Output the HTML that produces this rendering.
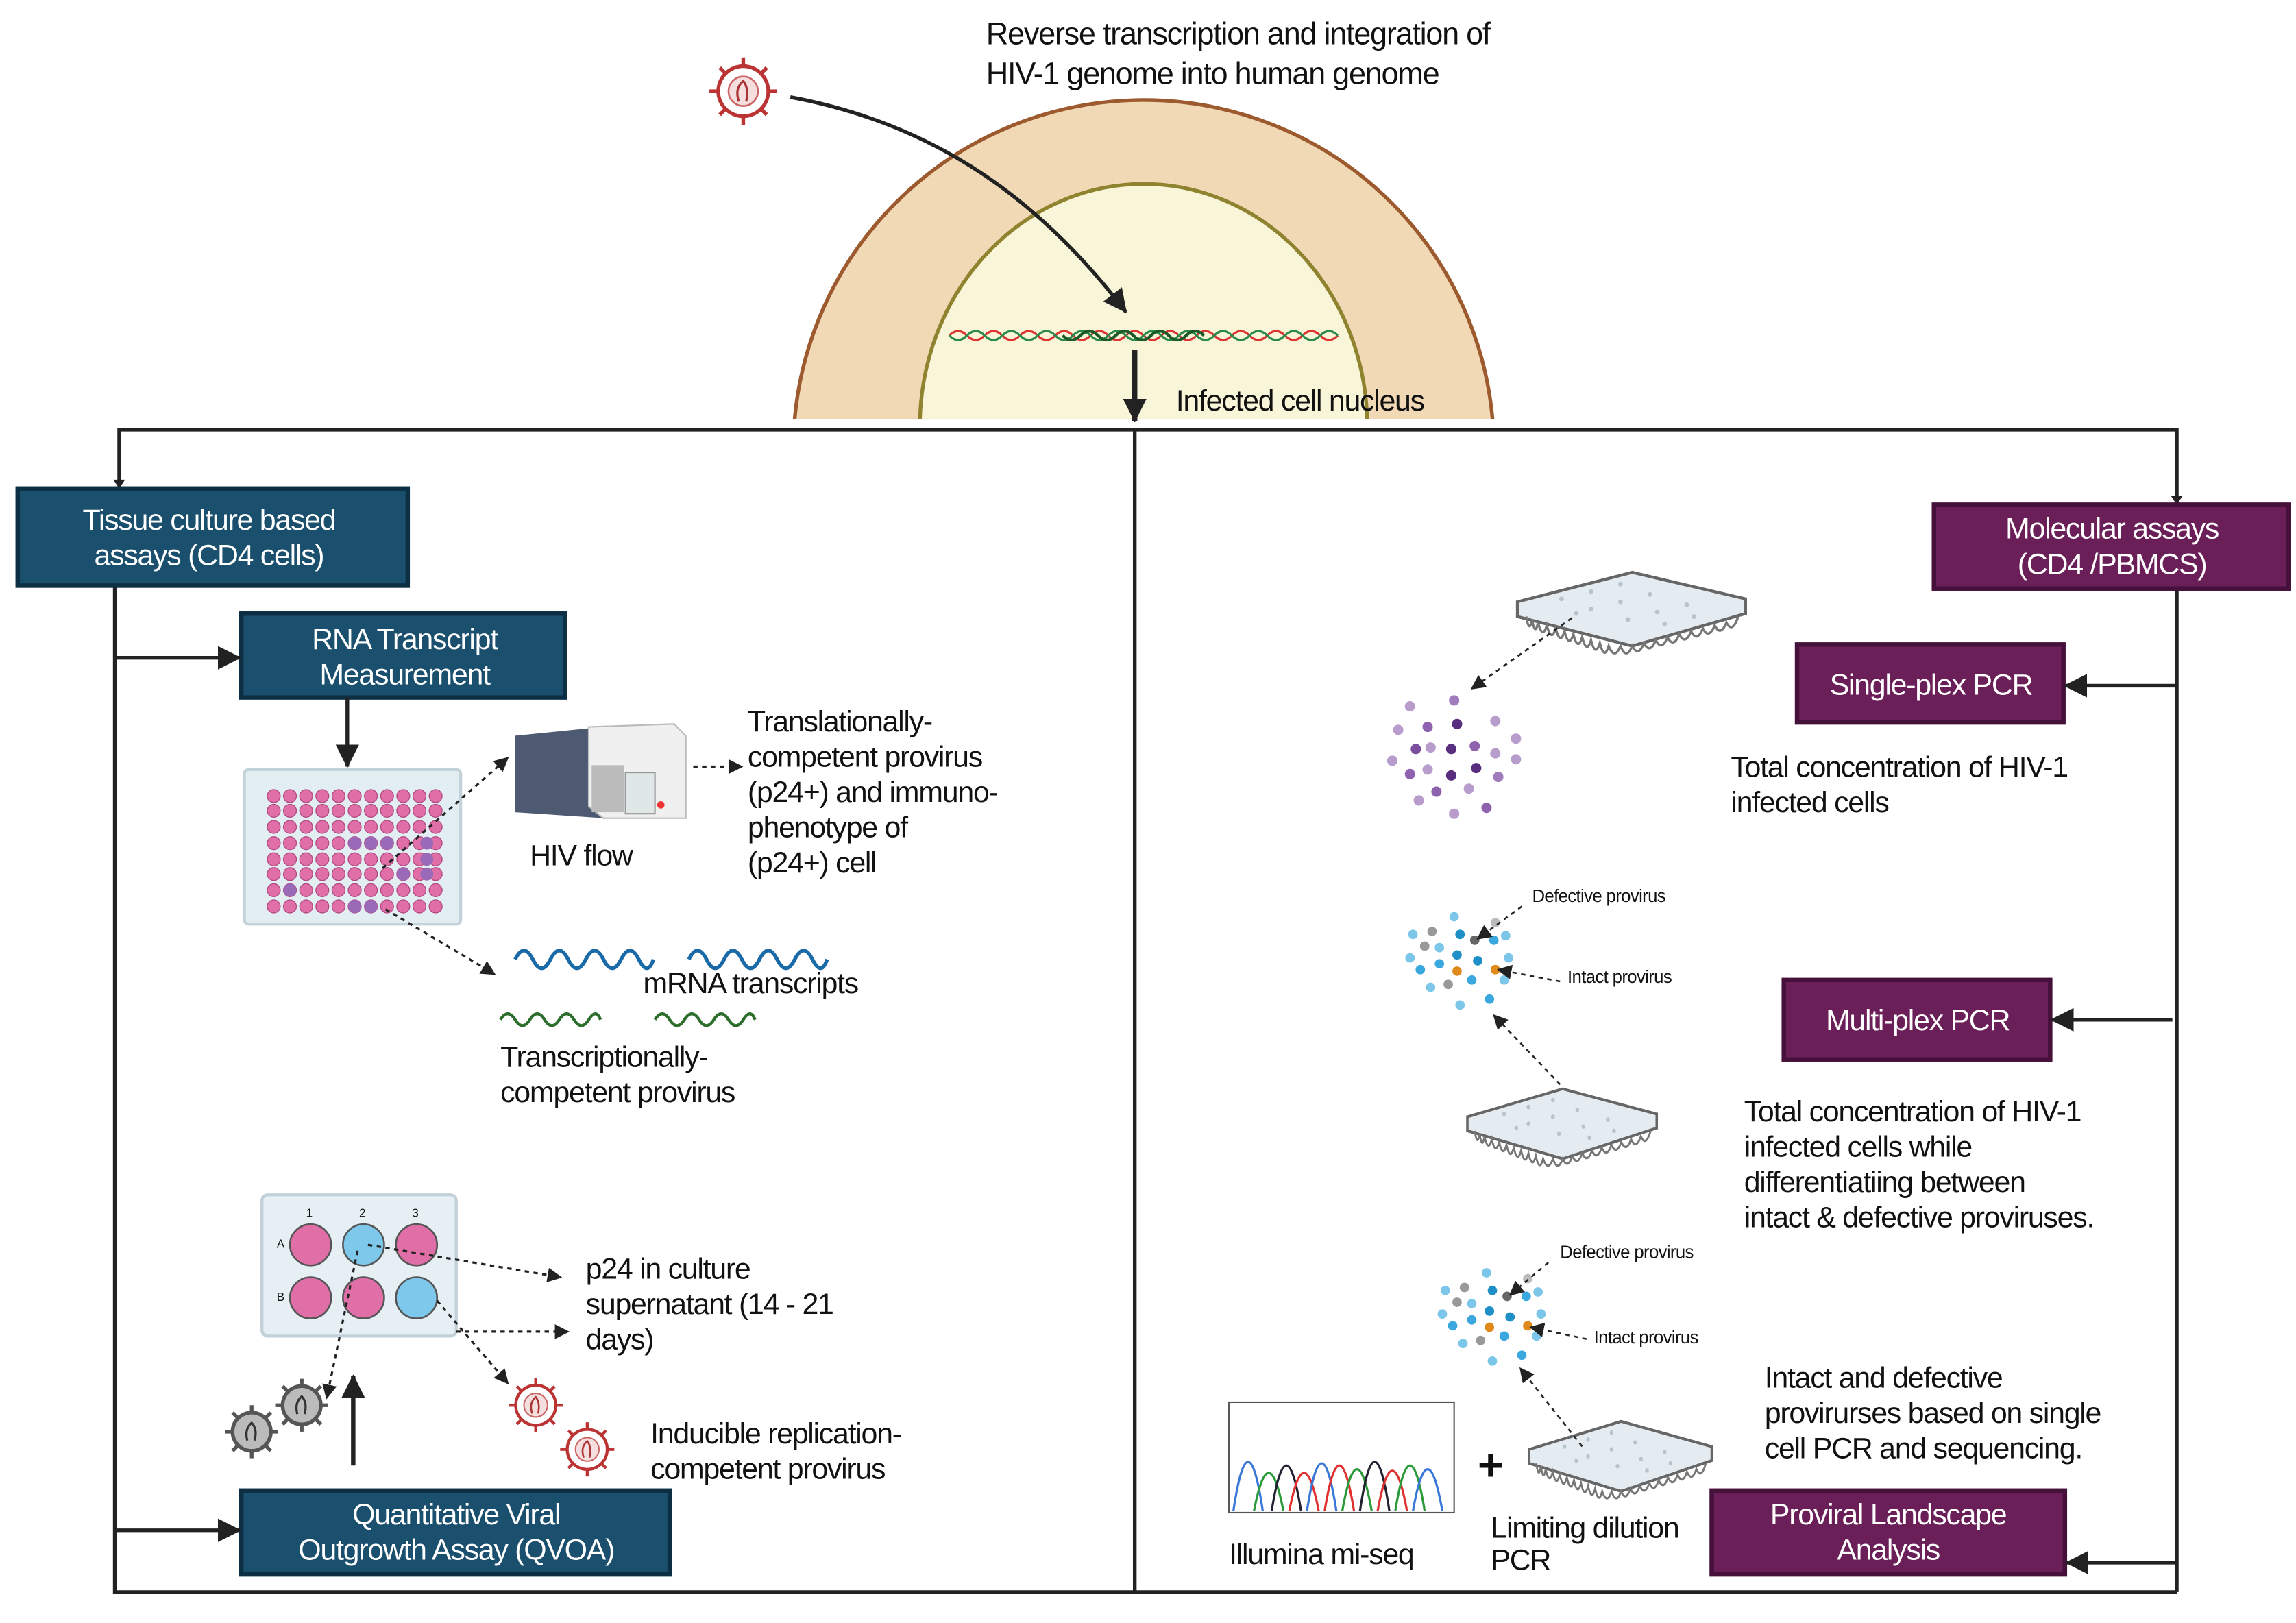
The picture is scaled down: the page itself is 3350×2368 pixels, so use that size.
<!DOCTYPE html>
<html><head><meta charset="utf-8"><style>
html,body{margin:0;padding:0;background:#fff}
svg{display:block}
text{font-family:"Liberation Sans",sans-serif;fill:#111;letter-spacing:-0.6px}
.w{fill:#fff}
.s{font-size:12px;letter-spacing:-0.3px}
</style></head><body>
<svg width="3350" height="2368" viewBox="0 0 1560 1103" preserveAspectRatio="none" xmlns="http://www.w3.org/2000/svg">
<defs>
<marker id="ah" markerWidth="10" markerHeight="10" refX="9" refY="5" orient="auto" markerUnits="userSpaceOnUse"><path d="M0,0 L10,5 L0,10 z" fill="#222"/></marker>
<marker id="AH" markerWidth="16" markerHeight="16" refX="15" refY="8" orient="auto" markerUnits="userSpaceOnUse"><path d="M0,0 L16,8 L0,16 z" fill="#222"/></marker>
<clipPath id="cl"><rect x="0" y="0" width="1560" height="285"/></clipPath>
<g id="row"><circle cx="186" cy="0" r="4.4"/><circle cx="197" cy="0" r="4.4"/><circle cx="208" cy="0" r="4.4"/><circle cx="219" cy="0" r="4.4"/><circle cx="230" cy="0" r="4.4"/><circle cx="241" cy="0" r="4.4"/><circle cx="252" cy="0" r="4.4"/><circle cx="263" cy="0" r="4.4"/><circle cx="274" cy="0" r="4.4"/><circle cx="285" cy="0" r="4.4"/><circle cx="296" cy="0" r="4.4"/></g>
<g id="pcr">
<path d="M0,20 L78,0 L155,18 L155,28 L78,50 L0,30 z" fill="#e4ecf2" stroke="#666" stroke-width="2"/>
<path d="M6,30 Q8,42 10,32 Q12,44 14,34 Q17,46 20,36 Q23,48 26,38 Q29,50 32,40 Q35,52 38,42 Q41,54 44,44 Q47,56 50,46 Q53,58 56,48 Q59,60 62,50 Q66,60 70,50 Q74,60 78,50 Q82,58 86,48 Q90,56 94,46 Q98,54 102,44 Q106,52 110,42 Q114,50 118,40 Q122,48 126,38 Q130,46 134,36 Q138,44 142,34 Q146,42 150,30" fill="none" stroke="#777" stroke-width="1.6"/>
<g fill="#b8c4cc"><circle cx="30" cy="18" r="1.6"/><circle cx="50" cy="13" r="1.6"/><circle cx="70" cy="8" r="1.6"/><circle cx="50" cy="25" r="1.6"/><circle cx="70" cy="20" r="1.6"/><circle cx="90" cy="15" r="1.6"/><circle cx="75" cy="32" r="1.6"/><circle cx="95" cy="27" r="1.6"/><circle cx="115" cy="22" r="1.6"/><circle cx="100" cy="35" r="1.6"/><circle cx="120" cy="30" r="1.6"/><circle cx="40" cy="28" r="1.6"/></g>
</g>
<g id="vr">
<circle r="17" fill="#fff" stroke="#b33" stroke-width="2.5"/>
<circle r="10" fill="#f5dede" stroke="#c66" stroke-width="1.2"/>
<path d="M-3,7 Q-6,-2 0,-7 Q4,-2 2,7" fill="none" stroke="#a33" stroke-width="1.5"/>
<g stroke="#b33" stroke-width="2.5"><line x1="0" y1="-17" x2="0" y2="-23"/><line x1="0" y1="17" x2="0" y2="23"/><line x1="-17" y1="0" x2="-23" y2="0"/><line x1="17" y1="0" x2="23" y2="0"/><line x1="12" y1="12" x2="16" y2="16"/><line x1="-12" y1="12" x2="-16" y2="16"/><line x1="12" y1="-12" x2="16" y2="-16"/><line x1="-12" y1="-12" x2="-16" y2="-16"/></g>
</g>
<g id="vg">
<circle r="13" fill="#bbb" stroke="#555" stroke-width="2.5"/>
<path d="M-3,6 Q-5,-2 0,-6 Q4,-2 2,6" fill="none" stroke="#333" stroke-width="1.5"/>
<g stroke="#555" stroke-width="2.5"><line x1="0" y1="-13" x2="0" y2="-18"/><line x1="0" y1="13" x2="0" y2="18"/><line x1="-13" y1="0" x2="-18" y2="0"/><line x1="13" y1="0" x2="18" y2="0"/><line x1="9" y1="9" x2="13" y2="13"/><line x1="-9" y1="9" x2="-13" y2="13"/><line x1="9" y1="-9" x2="13" y2="-13"/><line x1="-9" y1="-9" x2="-13" y2="-13"/></g>
</g>
<g id="cl2">
<circle cx="-30" cy="-10" r="3.2" fill="#7cc6ea"/><circle cx="-17" cy="-12" r="3.2" fill="#999"/><circle cx="-2" cy="-22" r="3.2" fill="#7cc6ea"/><circle cx="2" cy="-10" r="3.2" fill="#1f8fc8"/><circle cx="12" cy="-6" r="3.2" fill="#666"/><circle cx="25" cy="-6" r="3.2" fill="#3aa8de"/><circle cx="26" cy="-18" r="3.2" fill="#bbb"/><circle cx="33" cy="-9" r="3.2" fill="#7cc6ea"/>
<circle cx="-22" cy="-2" r="3.2" fill="#999"/><circle cx="-12" cy="-1" r="3.2" fill="#7cc6ea"/><circle cx="0" cy="4" r="3.2" fill="#1f8fc8"/><circle cx="-32" cy="6" r="3.2" fill="#7cc6ea"/><circle cx="14" cy="8" r="3.2" fill="#1f8fc8"/><circle cx="35" cy="6" r="3.2" fill="#7cc6ea"/>
<circle cx="-25" cy="14" r="3.2" fill="#3aa8de"/><circle cx="-12" cy="10" r="3.2" fill="#3aa8de"/><circle cx="0" cy="15" r="3.2" fill="#e08a1c"/><circle cx="26" cy="14" r="3.2" fill="#e08a1c"/><circle cx="10" cy="21" r="3.2" fill="#3aa8de"/><circle cx="32" cy="21" r="3.2" fill="#7cc6ea"/>
<circle cx="-18" cy="26" r="3.2" fill="#7cc6ea"/><circle cx="-6" cy="24" r="3.2" fill="#999"/><circle cx="2" cy="38" r="3.2" fill="#7cc6ea"/><circle cx="22" cy="34" r="3.2" fill="#3aa8de"/>
</g>
</defs>

<!-- nucleus -->
<g clip-path="url(#cl)">
<circle cx="777" cy="306" r="238" fill="#f1d9b6" stroke="#9c5a2e" stroke-width="2.5"/>
<ellipse cx="777" cy="290" rx="152" ry="165" fill="#f8f5d8" stroke="#8f8330" stroke-width="2.5"/>
</g>
<path d="M645,228 q6,-6 12,0 t12,0 t12,0 t12,0 t12,0 t12,0 t12,0 t12,0 t12,0 t12,0 t12,0 t12,0 t12,0 t12,0 t12,0 t12,0 t12,0 t12,0 t12,0 t12,0 t12,0 t12,0" fill="none" stroke="#d33" stroke-width="1.5"/>
<path d="M645,228 q6,6 12,0 t12,0 t12,0 t12,0 t12,0 t12,0 t12,0 t12,0 t12,0 t12,0 t12,0 t12,0 t12,0 t12,0 t12,0 t12,0 t12,0 t12,0 t12,0 t12,0 t12,0 t12,0" fill="none" stroke="#2a8a4a" stroke-width="1.5"/>
<path d="M722,228 q6,6 12,0 t12,0 t12,0 t12,0 t12,0 t12,0 t12,0 t12,0" fill="none" stroke="#1c5a2a" stroke-width="2"/>
<text x="670" y="30" style="font-size:21px">Reverse transcription and integration of</text>
<text x="670" y="57" style="font-size:21px">HIV-1 genome into human genome</text>
<use href="#vr" x="505" y="62"/>
<path d="M537,66 C640,85 710,140 765,212" fill="none" stroke="#222" stroke-width="2.5" marker-end="url(#AH)"/>
<line x1="771" y1="238" x2="771" y2="286" stroke="#222" stroke-width="3.5" marker-end="url(#AH)"/>
<text x="799" y="279" style="font-size:20px">Infected cell nucleus</text>

<!-- frame -->
<g stroke="#222" stroke-width="2.5" fill="none">
<polyline points="81,330 81,292 1479,292 1479,343"/>
<line x1="1479" y1="400" x2="1479" y2="1082"/>
<line x1="771" y1="292" x2="771" y2="1082"/>
<polyline points="78,398 78,1082 1479,1082"/>
</g>
<path d="M77,326 L81,332 L85,326z M1475,337 L1479,343 L1483,337z" fill="#222"/>

<!-- left boxes -->
<rect x="12" y="332" width="265" height="66" fill="#1b4f6e" stroke="#0d2f44" stroke-width="3"/>
<text class="w" x="142" y="360" text-anchor="middle" style="font-size:20px">Tissue culture based</text>
<text class="w" x="142" y="384" text-anchor="middle" style="font-size:20px">assays (CD4 cells)</text>
<rect x="164" y="417" width="220" height="57" fill="#1b4f6e" stroke="#0d2f44" stroke-width="3"/>
<text class="w" x="275" y="441" text-anchor="middle" style="font-size:20px">RNA Transcript</text>
<text class="w" x="275" y="465" text-anchor="middle" style="font-size:20px">Measurement</text>
<line x1="78" y1="447" x2="163" y2="447" stroke="#222" stroke-width="2.5" marker-end="url(#AH)"/>
<line x1="236" y1="474" x2="236" y2="521" stroke="#222" stroke-width="2.5" marker-end="url(#AH)"/>
<rect x="164" y="1013" width="291" height="57" fill="#1b4f6e" stroke="#0d2f44" stroke-width="3"/>
<text class="w" x="310" y="1036" text-anchor="middle" style="font-size:20px">Quantitative Viral</text>
<text class="w" x="310" y="1060" text-anchor="middle" style="font-size:20px">Outgrowth Assay (QVOA)</text>
<line x1="78" y1="1040" x2="163" y2="1040" stroke="#222" stroke-width="2.5" marker-end="url(#AH)"/>

<!-- 96 plate -->
<rect x="166" y="523" width="147" height="105" rx="3" fill="#e3eef3" stroke="#c4d2da" stroke-width="2"/>
<g fill="#e06fa7" stroke="#b04880" stroke-width="0.6">
<use href="#row" y="541"/><use href="#row" y="551"/><use href="#row" y="562"/><use href="#row" y="573"/><use href="#row" y="584"/><use href="#row" y="594"/><use href="#row" y="605"/><use href="#row" y="616"/>
</g>
<g fill="#9a6ab8"><circle cx="241" cy="573" r="4.4"/><circle cx="252" cy="573" r="4.4"/><circle cx="263" cy="573" r="4.4"/><circle cx="290" cy="573" r="4.4"/><circle cx="290" cy="584" r="4.4"/><circle cx="274" cy="594" r="4.4"/><circle cx="290" cy="594" r="4.4"/><circle cx="197" cy="605" r="4.4"/><circle cx="241" cy="616" r="4.4"/><circle cx="252" cy="616" r="4.4"/></g>

<!-- flow cytometer -->
<path d="M350,500 L410,494 L410,556 L350,552 z" fill="#4d5a72"/>
<path d="M400,494 L458,492 L466,500 L466,556 L410,556 L400,548 z" fill="#f0f0f0" stroke="#bbb"/>
<rect x="402" y="520" width="22" height="32" fill="#bbb"/>
<rect x="425" y="525" width="20" height="28" fill="#dfe8e6" stroke="#999"/>
<circle cx="449" cy="547" r="2.5" fill="#e33"/>
<text x="360" y="588" style="font-size:20px">HIV flow</text>
<line x1="471" y1="521" x2="504" y2="521" stroke="#222" stroke-width="1.5" stroke-dasharray="3,3" marker-end="url(#ah)"/>
<g style="font-size:20px"><text x="508" y="497">Translationally-</text><text x="508" y="521">competent provirus</text><text x="508" y="545">(p24+) and immuno-</text><text x="508" y="569">phenotype of</text><text x="508" y="593">(p24+) cell</text></g>
<g stroke="#222" stroke-width="1.5" stroke-dasharray="3,3" fill="none">
<line x1="260" y1="590" x2="345" y2="515" marker-end="url(#ah)"/>
<line x1="262" y1="618" x2="336" y2="662" marker-end="url(#ah)"/>
</g>
<path d="M350,652 q6,-12 12,0 t12,0 t12,0 t12,0 t12,0 t12,0 t12,0 t10,0" fill="none" stroke="#1a6aa8" stroke-width="2.5"/>
<path d="M468,652 q6,-12 12,0 t12,0 t12,0 t12,0 t12,0 t12,0 t12,0 t10,0" fill="none" stroke="#1a6aa8" stroke-width="2.5"/>
<path d="M340,693 q5,-8 10,0 t10,0 t10,0 t10,0 t10,0 t10,0 t8,0" fill="none" stroke="#2d6e2d" stroke-width="2"/>
<path d="M445,693 q5,-8 10,0 t10,0 t10,0 t10,0 t10,0 t10,0 t8,0" fill="none" stroke="#2d6e2d" stroke-width="2"/>
<g style="font-size:20px"><text x="437" y="675">mRNA transcripts</text><text x="340" y="725">Transcriptionally-</text><text x="340" y="749">competent provirus</text></g>

<!-- 6 well -->
<rect x="178" y="812" width="132" height="96" rx="4" fill="#e5eff4" stroke="#c2d0d8" stroke-width="2"/>
<g style="font-size:8px" fill="#444"><text x="208" y="827">1</text><text x="244" y="827">2</text><text x="280" y="827">3</text><text x="188" y="848">A</text><text x="188" y="884">B</text></g>
<g stroke="#555" stroke-width="1.2"><circle cx="211" cy="846" r="14" fill="#e06fa7"/><circle cx="247" cy="846" r="14" fill="#7ec8ec"/><circle cx="283" cy="846" r="14" fill="#e06fa7"/><circle cx="211" cy="882" r="14" fill="#e06fa7"/><circle cx="247" cy="882" r="14" fill="#e06fa7"/><circle cx="283" cy="882" r="14" fill="#7ec8ec"/></g>
<g stroke="#222" stroke-width="1.5" stroke-dasharray="3,3" fill="none">
<line x1="250" y1="846" x2="381" y2="868" marker-end="url(#ah)"/>
<line x1="310" y1="905" x2="386" y2="905" marker-end="url(#ah)"/>
<line x1="297" y1="884" x2="345" y2="940" marker-end="url(#ah)"/>
<line x1="243" y1="850" x2="222" y2="950" marker-end="url(#ah)"/>
</g>
<g style="font-size:20px"><text x="398" y="869">p24 in culture</text><text x="398" y="893">supernatant (14 - 21</text><text x="398" y="917">days)</text><text x="442" y="981">Inducible replication-</text><text x="442" y="1005">competent provirus</text></g>
<use href="#vg" x="171" y="973"/><use href="#vg" x="205" y="955"/>
<use href="#vr" x="364" y="955" transform="translate(364,955) scale(0.8) translate(-364,-955)"/>
<use href="#vr" x="399" y="985" transform="translate(399,985) scale(0.8) translate(-399,-985)"/>
<line x1="240" y1="996" x2="240" y2="935" stroke="#222" stroke-width="3" marker-end="url(#AH)"/>

<!-- right side boxes -->
<rect x="1314" y="343" width="241" height="57" fill="#6b1f58" stroke="#45103a" stroke-width="3"/>
<text class="w" x="1435" y="366" text-anchor="middle" style="font-size:20px">Molecular assays</text>
<text class="w" x="1435" y="390" text-anchor="middle" style="font-size:20px">(CD4 /PBMCS)</text>
<rect x="1221" y="438" width="181" height="53" fill="#6b1f58" stroke="#45103a" stroke-width="3"/>
<text class="w" x="1312" y="472" text-anchor="middle" style="font-size:20px">Single-plex PCR</text>
<line x1="1479" y1="466" x2="1403" y2="466" stroke="#222" stroke-width="2.5" marker-end="url(#AH)"/>
<rect x="1212" y="666" width="181" height="54" fill="#6b1f58" stroke="#45103a" stroke-width="3"/>
<text class="w" x="1303" y="700" text-anchor="middle" style="font-size:20px">Multi-plex PCR</text>
<line x1="1476" y1="693" x2="1394" y2="693" stroke="#222" stroke-width="2.5" marker-end="url(#AH)"/>
<rect x="1163" y="1013" width="240" height="57" fill="#6b1f58" stroke="#45103a" stroke-width="3"/>
<text class="w" x="1283" y="1036" text-anchor="middle" style="font-size:20px">Proviral Landscape</text>
<text class="w" x="1283" y="1060" text-anchor="middle" style="font-size:20px">Analysis</text>
<line x1="1479" y1="1062" x2="1404" y2="1062" stroke="#222" stroke-width="2.5" marker-end="url(#AH)"/>

<g style="font-size:20px">
<text x="1176" y="528">Total concentration of HIV-1</text><text x="1176" y="552">infected cells</text>
<text x="1185" y="762">Total concentration of HIV-1</text><text x="1185" y="786">infected cells while</text><text x="1185" y="810">differentiatiing between</text><text x="1185" y="834">intact &amp; defective proviruses.</text>
<text x="1199" y="943">Intact and defective</text><text x="1199" y="967">provirurses based on single</text><text x="1199" y="991">cell PCR and sequencing.</text>
<text x="835" y="1063">Illumina mi-seq</text><text x="1013" y="1045">Limiting dilution</text><text x="1013" y="1067">PCR</text>
</g>

<use href="#pcr" x="1031" y="389"/>
<use href="#pcr" x="997" y="740" transform="translate(997,740) scale(0.83,0.95) translate(-997,-740)"/>
<use href="#pcr" x="1039" y="966" transform="translate(1039,966) scale(0.8,0.95) translate(-1039,-966)"/>

<!-- purple cluster -->
<g>
<circle cx="958" cy="480" r="3.5" fill="#b79ccc"/><circle cx="988" cy="476" r="3.5" fill="#a07cbc"/><circle cx="950" cy="496" r="3.5" fill="#b79ccc"/><circle cx="970" cy="494" r="3.5" fill="#8e62ae"/><circle cx="990" cy="492" r="3.5" fill="#5a2e7e"/><circle cx="1016" cy="490" r="3.5" fill="#b79ccc"/>
<circle cx="962" cy="509" r="3.5" fill="#7a4e9c"/><circle cx="972" cy="508" r="3.5" fill="#b79ccc"/><circle cx="986" cy="509" r="3.5" fill="#5a2e7e"/><circle cx="1002" cy="507" r="3.5" fill="#8e62ae"/><circle cx="1016" cy="512" r="3.5" fill="#b79ccc"/><circle cx="1030" cy="502" r="3.5" fill="#b79ccc"/>
<circle cx="946" cy="517" r="3.5" fill="#b79ccc"/><circle cx="958" cy="526" r="3.5" fill="#8e62ae"/><circle cx="970" cy="523" r="3.5" fill="#b79ccc"/><circle cx="986" cy="527" r="3.5" fill="#5a2e7e"/><circle cx="1003" cy="522" r="3.5" fill="#5a2e7e"/><circle cx="1030" cy="516" r="3.5" fill="#b79ccc"/>
<circle cx="964" cy="544" r="3.5" fill="#b79ccc"/><circle cx="976" cy="538" r="3.5" fill="#8e62ae"/><circle cx="998" cy="536" r="3.5" fill="#b79ccc"/><circle cx="988" cy="553" r="3.5" fill="#b79ccc"/><circle cx="1010" cy="549" r="3.5" fill="#8e62ae"/><circle cx="1018" cy="528" r="3.5" fill="#a07cbc"/>
</g>
<line x1="1068" y1="420" x2="1000" y2="468" stroke="#222" stroke-width="1.3" stroke-dasharray="3,3" marker-end="url(#ah)"/>

<use href="#cl2" x="990" y="645"/>
<text class="s" x="1041" y="613">Defective provirus</text><text class="s" x="1065" y="668">Intact provirus</text>
<g stroke="#222" stroke-width="1.2" stroke-dasharray="3,3" fill="none">
<line x1="1034" y1="616" x2="1004" y2="638" marker-end="url(#ah)"/>
<line x1="1060" y1="667" x2="1018" y2="659" marker-end="url(#ah)"/>
<line x1="1060" y1="737" x2="1015" y2="690" marker-end="url(#ah)"/>
</g>
<use href="#cl2" x="1012" y="887"/>
<text class="s" x="1060" y="855">Defective provirus</text><text class="s" x="1083" y="913">Intact provirus</text>
<g stroke="#222" stroke-width="1.2" stroke-dasharray="3,3" fill="none">
<line x1="1052" y1="858" x2="1026" y2="880" marker-end="url(#ah)"/>
<line x1="1078" y1="910" x2="1040" y2="902" marker-end="url(#ah)"/>
<line x1="1075" y1="983" x2="1033" y2="930" marker-end="url(#ah)"/>
</g>

<!-- chromatogram -->
<rect x="835" y="953" width="153" height="75" fill="#fff" stroke="#555" stroke-width="1"/>
<g fill="none" stroke-width="1.5">
<path d="M838,1027 Q848,960 858,1027" stroke="#3a78d8"/><path d="M852,1027 Q862,975 872,1027" stroke="#2a9a3a"/><path d="M864,1027 Q874,965 884,1027" stroke="#223"/><path d="M876,1027 Q886,975 896,1027" stroke="#e03030"/>
<path d="M888,1027 Q898,962 908,1027" stroke="#3a78d8"/><path d="M900,1027 Q910,965 920,1027" stroke="#e03030"/><path d="M912,1027 Q922,970 932,1027" stroke="#2a9a3a"/><path d="M924,1027 Q934,960 944,1027" stroke="#223"/>
<path d="M936,1027 Q946,972 956,1027" stroke="#e03030"/><path d="M948,1027 Q958,965 968,1027" stroke="#2a9a3a"/><path d="M960,1027 Q970,970 980,1027" stroke="#3a78d8"/>
</g>
<text x="1004" y="1006" style="font-size:30px;font-weight:bold">+</text>
</svg>
</body></html>
